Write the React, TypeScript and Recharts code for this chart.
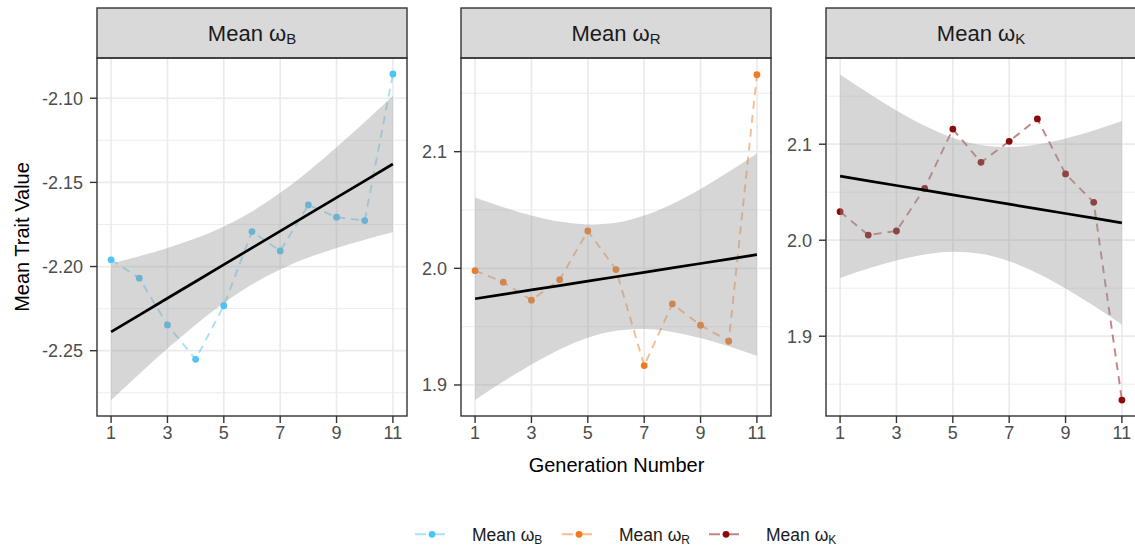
import React from "react";
import { ComposedChart, Line, Area, XAxis, YAxis, CartesianGrid } from "recharts";

const generations = [1, 2, 3, 4, 5, 6, 7, 8, 9, 10, 11];
const xTicks = [1, 3, 5, 7, 9, 11];

const meanOmegaB = [-2.196, -2.2069, -2.2347, -2.2551, -2.2233, -2.1792, -2.1907, -2.1634, -2.1707, -2.1727, -2.0856];
const meanOmegaR = [1.998, 1.9881, 1.9727, 1.9903, 2.032, 1.9989, 1.9166, 1.9695, 1.9512, 1.9375, 2.166];
const meanOmegaK = [2.0297, 2.0054, 2.0096, 2.054, 2.1158, 2.0811, 2.103, 2.1263, 2.069, 2.0395, 1.8335];

const ticksB = [-2.25, -2.2, -2.15, -2.1];
const minorB = [-2.275, -2.225, -2.175, -2.125];
const ticksR = [1.9, 2.0, 2.1];
const minorR = [1.95, 2.05, 2.15];
const ticksK = [1.9, 2.0, 2.1];
const minorK = [1.85, 1.95, 2.05, 2.15];

const domainB = [-2.2888, -2.0761];
const domainR = [1.8734, 2.1803];
const domainK = [1.8169, 2.1898];

const labels = ["B", "R", "K"];
const colors = ["#4FC3F7", "#F47A1F", "#8B0A0A"];

// geom_smooth(method = "lm") equivalent: OLS fit with 95% confidence band
function lmBand(xs: number[], ys: number[]) {
  const n = xs.length;
  const xbar = xs.reduce((s, v) => s + v, 0) / n;
  const ybar = ys.reduce((s, v) => s + v, 0) / n;
  let sxx = 0, sxy = 0;
  xs.forEach((x, i) => { sxx += (x - xbar) ** 2; sxy += (x - xbar) * (ys[i] - ybar); });
  const b = sxy / sxx;
  const a = ybar - b * xbar;
  let sse = 0;
  xs.forEach((x, i) => { sse += (ys[i] - (a + b * x)) ** 2; });
  const s = Math.sqrt(sse / (n - 2));
  const t = 2.262157; // qt(0.975, 9)
  return xs.map((x, i) => {
    const fit = a + b * x;
    const se = s * Math.sqrt(1 / n + (x - xbar) ** 2 / sxx);
    return { x, y: ys[i], fit, band: [fit - t * se, fit + t * se] };
  });
}

const FONT = "'Liberation Sans', Arial, sans-serif";
const PLOT_LEFTS = [97, 461, 826];
const PLOT_TOP = 58;
const PLOT_W = 310;
const PLOT_H = 358;
const YAXIS_W = 60;
const XAXIS_H = 40;

type PanelProps = {
  values: number[];
  domain: number[];
  ticks: number[];
  minor: number[];
  color: string;
  left: number;
  digits: number;
};

function Panel({ values, domain, ticks, minor, color, left, digits }: PanelProps) {
  const data = lmBand(generations, values);
  const dot = (p: any) => (
    <circle key={`d-${p.index}`} cx={p.cx} cy={p.cy} r={3.4} fill={color} stroke="none" />
  );
  return (
    <div style={{ position: "absolute", left: left - YAXIS_W, top: PLOT_TOP }}>
      <ComposedChart
        width={YAXIS_W + PLOT_W}
        height={PLOT_H + XAXIS_H}
        data={data}
        margin={{ top: 0, right: 0, bottom: 0, left: 0 }}
      >
        <CartesianGrid
          stroke="#EBEBEB"
          strokeWidth={0.9}
          vertical={false}
          horizontalValues={minor}
        />
        <CartesianGrid
          stroke="#EBEBEB"
          strokeWidth={1.7}
          horizontalValues={ticks}
          verticalValues={xTicks}
        />
        <XAxis
          dataKey="x"
          type="number"
          domain={[0.5, 11.5]}
          ticks={xTicks}
          allowDataOverflow
          axisLine={false}
          tickLine={{ stroke: "#333333", strokeWidth: 1.4 }}
          tickSize={7}
          tickMargin={3}
          height={XAXIS_H}
          tick={{ fill: "#4D4D4D", fontSize: 18 }}
        />
        <YAxis
          type="number"
          domain={domain}
          ticks={ticks}
          allowDataOverflow
          axisLine={false}
          tickLine={{ stroke: "#333333", strokeWidth: 1.4 }}
          tickSize={7}
          tickMargin={7}
          width={YAXIS_W}
          tick={{ fill: "#4D4D4D", fontSize: 18 }}
          tickFormatter={(v: number) => v.toFixed(digits)}
        />
        <Line
          dataKey="y"
          type="linear"
          stroke={color}
          strokeOpacity={0.5}
          strokeWidth={1.9}
          strokeDasharray="8 6"
          dot={dot}
          activeDot={false}
          isAnimationActive={false}
          zIndex={400}
        />
        <Area
          dataKey="band"
          type="monotone"
          fill="#999999"
          fillOpacity={0.4}
          stroke="none"
          dot={false}
          activeDot={false}
          isAnimationActive={false}
          zIndex={1500}
        />
        <Line
          dataKey="fit"
          type="linear"
          stroke="#000000"
          strokeWidth={2.7}
          dot={false}
          activeDot={false}
          isAnimationActive={false}
          zIndex={1600}
        />
      </ComposedChart>
    </div>
  );
}

function Title({ x, y, label, size, sub, anchor }: { x: number; y: number; label: string; size: number; sub: number; anchor: string }) {
  return (
    <text x={x} y={y} textAnchor={anchor} fill="#1A1A1A" fontSize={size} fontFamily={FONT}>
      Mean ω
      <tspan dy={size * 0.18} fontSize={sub}>{label}</tspan>
    </text>
  );
}

export default function App() {
  const panels = [
    { values: meanOmegaB, domain: domainB, ticks: ticksB, minor: minorB, digits: 2 },
    { values: meanOmegaR, domain: domainR, ticks: ticksR, minor: minorR, digits: 1 },
    { values: meanOmegaK, domain: domainK, ticks: ticksK, minor: minorK, digits: 1 },
  ];
  const legendX = [415, 562, 709];
  return (
    <div
      style={{
        position: "absolute",
        left: 0,
        top: 0,
        width: 1135,
        height: 548,
        overflow: "hidden",
        background: "#FFFFFF",
        fontFamily: FONT,
      }}
    >
      {panels.map((p, i) => (
        <Panel key={i} {...p} color={colors[i]} left={PLOT_LEFTS[i]} />
      ))}
      <svg
        width={1135}
        height={548}
        style={{ position: "absolute", left: 0, top: 0, pointerEvents: "none" }}
      >
        {PLOT_LEFTS.map((l, i) => (
          <g key={i}>
            <rect x={l} y={8} width={PLOT_W} height={50} fill="#D9D9D9" stroke="#333333" strokeWidth={1.4} />
            <rect x={l} y={PLOT_TOP} width={PLOT_W} height={PLOT_H} fill="none" stroke="#333333" strokeWidth={1.4} />
            <Title x={l + PLOT_W / 2} y={40.5} label={labels[i]} size={22} sub={15} anchor="middle" />
          </g>
        ))}
        <text
          x={616.5}
          y={471.5}
          textAnchor="middle"
          fontSize={20}
          fill="#000000"
          fontFamily={FONT}
        >
          Generation Number
        </text>
        <text
          transform="translate(29,237) rotate(-90)"
          textAnchor="middle"
          fontSize={20}
          fill="#000000"
          fontFamily={FONT}
        >
          Mean Trait Value
        </text>
        {legendX.map((lx, i) => (
          <g key={`lg-${i}`}>
            <line
              x1={lx}
              x2={lx + 30}
              y1={534.3}
              y2={534.3}
              stroke={colors[i]}
              strokeOpacity={0.5}
              strokeWidth={1.9}
              strokeDasharray="11 8"
            />
            <circle cx={lx + 17} cy={534.3} r={3.4} fill={colors[i]} />
            <Title x={lx + 57} y={540.5} label={labels[i]} size={17.5} sub={12} anchor="start" />
          </g>
        ))}
      </svg>
    </div>
  );
}
